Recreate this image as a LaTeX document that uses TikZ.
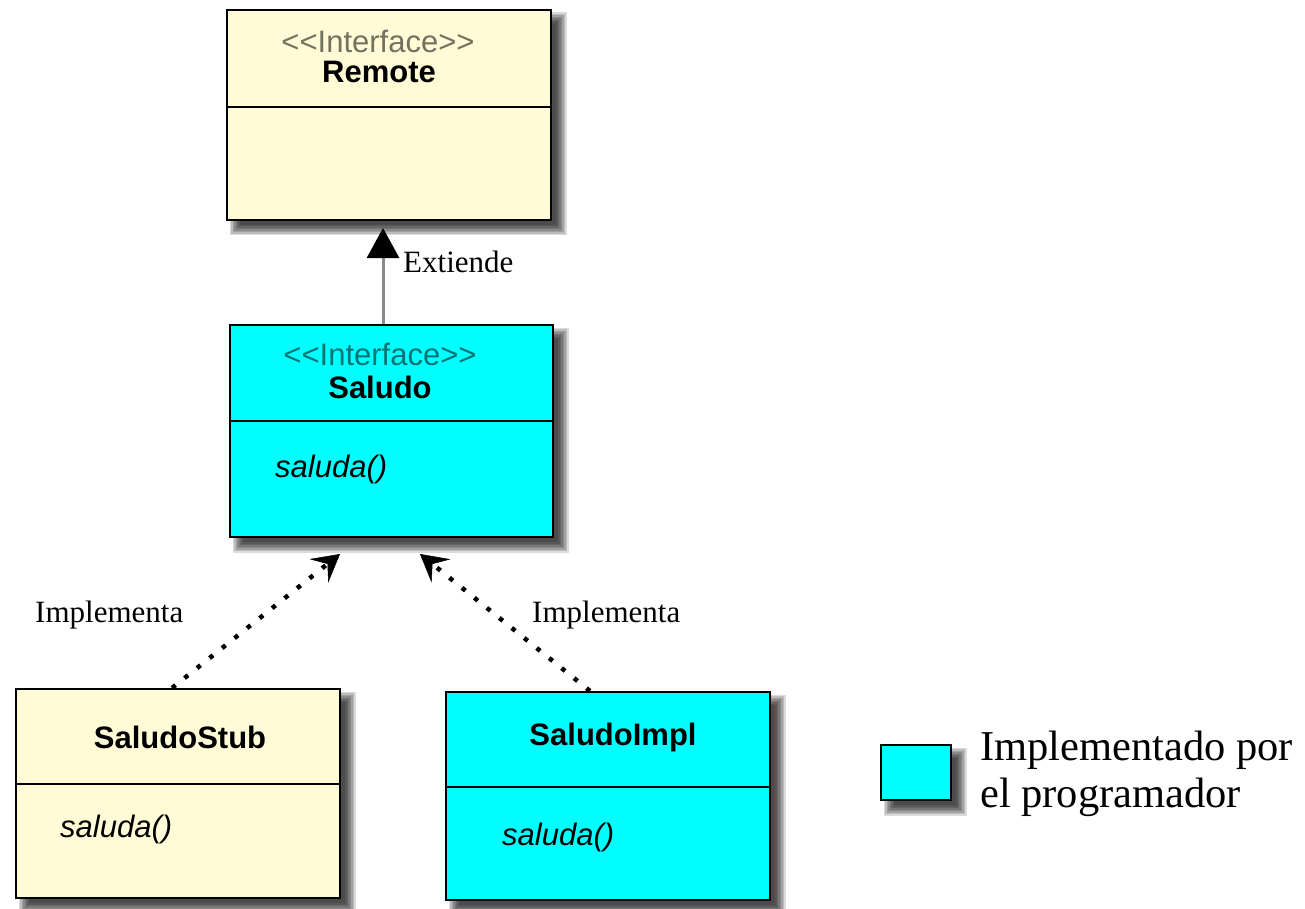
\documentclass[tikz,border=0pt]{standalone}
\usepackage{fontspec}
\setmainfont{Liberation Serif}
\newfontfamily\umlfont{Liberation Sans}
\usetikzlibrary{arrows.meta,calc,backgrounds}

\definecolor{cream}{RGB}{255,251,214}
\definecolor{aqua}{RGB}{0,255,255}

% soft drop shadow below-right of a node, built from stacked translucent layers
\newcommand\castshadow[1]{%
  \foreach \r in {-5,-3.5,...,6}{%
    \fill[black,opacity=0.14]
      ($(#1.north west)+({9-(\r)},{9-(\r)})$) rectangle
      ($(#1.south east)+({9+(\r)},{9+(\r)})$);}}

\begin{document}
\begin{tikzpicture}[x=1pt,y=-1pt,
  umlbox/.style={draw=black, line width=2pt, rectangle, inner sep=0pt},
  divider/.style={draw=black, line width=2pt},
  stereo/.style={font=\umlfont\fontsize{31}{36}\selectfont, text opacity=0.55,
    inner sep=0pt, anchor=base},
  clsname/.style={font=\umlfont\bfseries\fontsize{31}{36}\selectfont,
    inner sep=0pt, anchor=base},
  oper/.style={font=\umlfont\itshape\fontsize{31}{36}\selectfont,
    inner sep=0pt, anchor=base west},
  lbl/.style={font=\fontsize{31}{36}\selectfont, inner sep=0pt, anchor=base west},
  legendtxt/.style={font=\fontsize{42.5}{47}\selectfont, inner sep=0pt, anchor=base west},
  extends/.style={draw=black!45, line width=3pt,
    -{Triangle[length=30pt,width=32pt,color=black]}},
  realizes/.style={draw=black, line width=4.5pt, line cap=butt,
    dash pattern=on 4.5pt off 11.5pt,
    -{Stealth[length=27pt,width=30pt,inset=11pt,line width=0.5pt]}},
]
\useasboundingbox (0,0) rectangle (1305,909);

% class boxes
\node[umlbox, fill=cream, minimum width=324pt, minimum height=210pt] (remote) at (389,115) {};
\node[umlbox, fill=aqua, minimum width=323pt, minimum height=212pt] (saludo) at (391.5,431) {};
\node[umlbox, fill=cream, minimum width=324pt, minimum height=209pt] (stub) at (178,793.5) {};
\node[umlbox, fill=aqua, minimum width=324pt, minimum height=208pt] (impl) at (608,796) {};
\node[umlbox, fill=aqua, minimum width=70pt, minimum height=55pt] (legend) at (916,772.5) {};

% shadows behind the boxes
\begin{scope}[on background layer]
  \castshadow{remote}
  \castshadow{saludo}
  \castshadow{stub}
  \castshadow{impl}
  \castshadow{legend}
\end{scope}

% compartment dividers
\draw[divider] (remote.west |- 0,107) -- (remote.east |- 0,107);
\draw[divider] (saludo.west |- 0,421) -- (saludo.east |- 0,421);
\draw[divider] (stub.west |- 0,784) -- (stub.east |- 0,784);
\draw[divider] (impl.west |- 0,787) -- (impl.east |- 0,787);

% class texts
\node[stereo] (remoteSt) at (378,53) {<\kern0pt<Interface>\kern0pt>};
\node[clsname] (remoteNm) at (379,83) {Remote};

\node[stereo] (saludoSt) at (380,365) {<\kern0pt<Interface>\kern0pt>};
\node[clsname] (saludoNm) at (380,398) {Saludo};
\node[oper] (saludoOp) at (275,477) {saluda()};

\node[clsname] (stubNm) at (180,748) {SaludoStub};
\node[oper] (stubOp) at (60,837) {saluda()};

\node[clsname] (implNm) at (613,745) {SaludoImpl};
\node[oper] (implOp) at (502,845) {saluda()};

% relations
\coordinate (extTip) at (383,228);
\draw[extends] (saludo.north -| extTip) -- (extTip);
\node[lbl] (extLbl) at (403,272) {Extiende};

\coordinate (stubFoot) at (172,689);
\coordinate (stubTip) at (340,554);
\draw[realizes] (stub.north -| stubFoot) -- (stubTip);
\node[lbl] (stubLbl) at (35,622) {Implementa};

\coordinate (implFoot) at (590,692);
\coordinate (implTip) at (420,554);
\draw[realizes] (impl.north -| implFoot) -- (implTip);
\node[lbl] (implLbl) at (532,622) {Implementa};

% legend text
\node[legendtxt] (legendTxtA) at (980,760) {Implementado por};
\node[legendtxt] (legendTxtB) at (980,807) {el programador};
\end{tikzpicture}
\end{document}
